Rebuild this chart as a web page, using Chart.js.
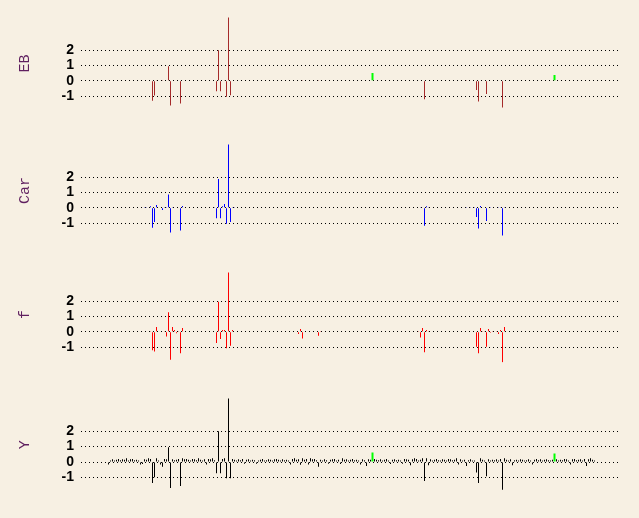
<!DOCTYPE html>
<html>
<head>
<meta charset="utf-8">
<script src="https://cdn.jsdelivr.net/npm/chart.js@4"></script>
<style>
  html, body { margin: 0; padding: 0; background: #F7F0E3; }
  body { width: 639px; height: 518px; position: relative; overflow: hidden; }
  canvas { position: absolute; left: 0; }
</style>
</head>
<body>
<canvas id="pEB" width="639" height="127" style="top:0px"></canvas>
<canvas id="pCar" width="639" height="127" style="top:127px"></canvas>
<canvas id="pF" width="639" height="127" style="top:251px"></canvas>
<canvas id="pY" width="639" height="137" style="top:381px"></canvas>
<script>
// ===== Data =====
const yTicks = [-1, 0, 1, 2];

// EB: only the non-zero observations (index, value)
const ebIdx = [22, 23, 24, 27, 30, 31, 36, 54, 55, 56, 58, 59, 60, 61, 97, 105, 158, 179, 184, 185, 189, 197];
const ebVal = [-1.3, -0.95, 0.06, 0.06, 0.94, -1.6, -1.48, -0.67, 1.98, -0.67, 0.06, -1.04, 4.12, -0.94, 0.06, 0.06, -1.19, 0.06, -0.6, -1.35, -0.85, -1.73];
const ebGreenIdx = [132, 223];
const ebGreenVal = [0.5, 0.38];

// Car
const carIdx = [18, 19, 21, 22, 23, 24, 27, 28, 29, 30, 31, 32, 36, 37, 53, 54, 55, 56, 57, 58, 59, 60, 61, 62, 63,
  156, 158, 159, 160, 179, 181, 183, 184, 185, 186, 189, 191, 195, 196, 197, 198];
const carVal = [0.05, 0.05, 0.1, -1.29, -0.92, 0.19, -0.15, 0.05, 0.05, 0.87, -1.6, 0.05, -1.48, 0.12, 0.05, -0.67, 1.88, -0.67, 0.1, 0.25, -1.04, 4.12, -0.92, 0.05, 0.05,
  0.05, -1.17, 0.1, 0.06, 0.05, 0.05, 0.05, -0.6, -1.35, 0.12, -0.85, 0.05, 0.05, 0.05, -1.8, 0.06];
const carGreenIdx = [132];
const carGreenVal = [0.04];

// f
const fIdx = [21, 22, 23, 24, 28, 29, 30, 31, 32, 33, 34, 35, 36, 37, 54, 55, 56, 57, 58, 59, 60, 61, 62,
  95, 96, 97, 105, 106, 155, 156, 157, 158, 159, 160, 184, 185, 186, 187, 188, 189, 190, 191, 192, 194, 195, 196, 197, 198];
const fVal = [0.05, -1.19, -1.28, 0.31, 0.05, -0.31, 1.27, -1.82, 0.31, 0.12, -0.1, 0.06, -1.39, 0.25, -0.72, 1.96, -0.47, 0.12, 0.12, -1.06, 3.85, -0.9, 0.12,
  -0.15, 0.19, -0.44, -0.25, 0.06, 0.06, -0.37, 0.25, -1.33, 0.12, 0.06, -0.97, -1.4, 0.25, 0.06, 0.05, -0.97, 0.19, -0.06, 0.06, 0.06, -0.15, 0.12, -1.98, 0.31];

// Y: every observation, index 0..243
const yVal = [
  -0.15, 0.1, 0.18, 0.1, 0.15, 0.2, 0.12, 0.18, 0.15, 0.25, 0.1, 0.18, 0.2, 0.12, 0.15, 0.1, -0.15, -0.12, 0.18, 0.15,
  0.25, 0.2, -1.35, -0.98, 0.25, 0.1, -0.15, -0.3, 0.2, 0.18, 0.96, -1.67, 0.18, 0.12, 0.15, 0.2, -1.54, 0.25, 0.18, 0.2,
  0.15, 0.1, 0.2, 0.18, 0.12, 0.25, 0.15, 0.1, 0.18, -0.15, 0.2, 0.18, 0.25, 0.12, -0.73, 2.0, -0.73, 0.2, 0.25, -1.04,
  4.12, -1.04, 0.2, 0.15, 0.1, 0.18, 0.12, 0.2, -0.1, 0.15, 0.18, 0.1, 0.15, 0.12, -0.1, 0.1, 0.15, 0.2, 0.1, 0.12,
  0.18, 0.15, 0.1, 0.18, 0.2, 0.15, 0.1, 0.18, 0.12, 0.15, 0.1, -0.15, 0.2, 0.25, 0.15, 0.18, -0.18, 0.25, 0.15, 0.2,
  -0.15, 0.25, 0.18, 0.2, 0.12, -0.3, 0.15, 0.1, 0.18, 0.12, -0.1, 0.15, 0.18, 0.2, 0.1, 0.15, -0.12, 0.25, 0.15, 0.18,
  0.1, 0.15, 0.2, 0.12, 0.15, 0.1, -0.15, 0.18, 0.12, -0.25, 0.18, 0.15, 0, 0.2, 0.15, 0.12, 0.18, 0.1, 0.15, 0.2,
  0.1, -0.12, 0.15, 0.18, 0.12, 0.15, 0.1, -0.1, 0.2, 0.18, 0.15, -0.2, 0.18, 0.25, 0.2, 0.1, 0.15, 0.25, -1.23, 0.25,
  -0.2, 0.18, 0.1, 0.15, 0.2, 0.12, 0.1, 0.18, 0.15, 0.1, 0.2, 0.18, 0.12, 0.15, 0.25, -0.15, 0.18, 0.1, 0.15, -0.25,
  0.12, 0.18, 0.1, 0.1, -0.67, -1.35, 0.25, 0.15, 0.1, -0.92, 0.18, 0.1, 0.15, 0.12, 0.18, 0.1, 0.2, -1.79, 0.25, 0.15,
  0.1, 0.18, -0.2, 0.12, 0.15, 0.1, 0.18, 0.15, 0.1, 0.12, 0.18, 0.1, -0.15, 0.15, 0.2, 0.12, 0.18, 0.1, 0.15, 0.18,
  0.12, 0.1, 0.15, 0, 0.18, 0.1, 0.15, 0.12, 0.2, 0.18, 0.1, -0.15, 0.18, 0.2, 0.12, 0.15, 0.18, 0.1, 0.2, -0.25,
  0.18, 0.25, 0.15, 0.1
];
const yGreenIdx = [132, 223];
const yGreenVal = [0.62, 0.56];

// ===== Utils =====
function pontos(idx, val) {
  return idx.map((x, i) => ({ x, y: val[i] }));
}

// ===== Chart =====
function criarPainel(id, titulo, cor, dados, verdes) {
  const canvas = document.getElementById(id);
  const datasets = [{
    data: dados,
    backgroundColor: cor,
    barThickness: 1,
    inflateAmount: 0,
    grouped: false
  }];
  if (verdes.length) {
    datasets.push({
      data: verdes,
      backgroundColor: '#00FF00',
      barThickness: 2,
      inflateAmount: 0,
      grouped: false
    });
  }

  return new Chart(canvas, {
    type: 'bar',
    data: { datasets },
    options: {
      responsive: false,
      animation: false,
      events: [],
      layout: { padding: { top: 12, bottom: canvas.height - 112, left: 0, right: 21 } },
      plugins: { legend: { display: false }, tooltip: { enabled: false } },
      scales: {
        x: { type: 'linear', display: false, offset: false, min: -13.75, max: 254.75 },
        y: {
          min: -2,
          max: 4.25,
          afterFit: (s) => { s.width = 81; },
          afterBuildTicks: (s) => { s.ticks = yTicks.map(v => ({ value: v })); },
          grid: { color: '#000', lineWidth: 1, drawTicks: false },
          border: { display: false, dash: [1, 3] },
          ticks: {
            color: '#000',
            padding: 7,
            font: { family: 'Liberation Sans', size: 14, weight: 'bold' },
            callback: (v) => String(v)
          },
          title: {
            display: true,
            text: titulo,
            color: '#5f1f5f',
            font: { family: 'Liberation Mono', size: 15 },
            padding: { top: 16, bottom: 0 }
          }
        }
      }
    }
  });
}

// ===== Main =====
criarPainel('pEB', 'EB', '#A52A2A', pontos(ebIdx, ebVal), pontos(ebGreenIdx, ebGreenVal));
criarPainel('pCar', 'Car', '#0000FF', pontos(carIdx, carVal), pontos(carGreenIdx, carGreenVal));
criarPainel('pF', 'f', '#FF0000', pontos(fIdx, fVal), []);
criarPainel('pY', 'Y', '#000000', yVal.map((y, x) => ({ x, y })), pontos(yGreenIdx, yGreenVal));
</script>
</body>
</html>
